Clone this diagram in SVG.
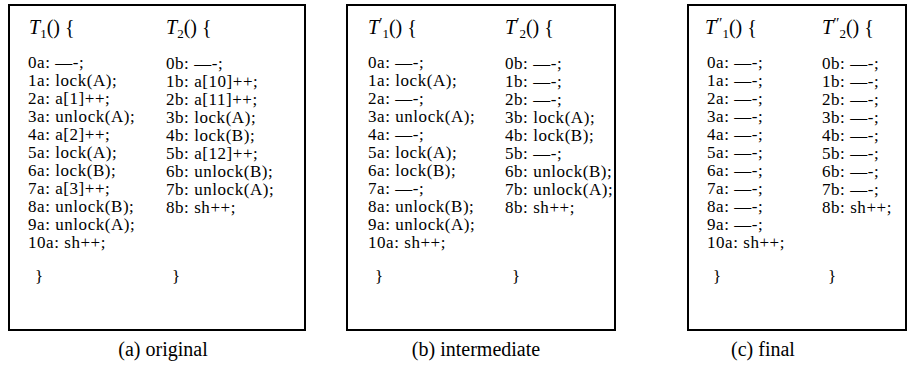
<svg xmlns="http://www.w3.org/2000/svg" width="915" height="369" viewBox="0 0 915 369">
<style>
.box{fill:#fff;stroke:#000;stroke-width:2}
text{font-family:"Liberation Serif","Times New Roman",serif;fill:#000}
.b{font-size:17px;letter-spacing:0.55px}
.h{font-size:20px}
.cap{font-size:20px}
.it{font-style:italic}
.s{font-size:13px}
.p{font-size:15px}
</style>
<rect width="915" height="369" fill="#fff"/>
<g id="panel-a">
<rect class="box" x="9" y="5" width="296" height="325"/>
<text class="h" x="29" y="34"><tspan class="it">T</tspan><tspan class="s" dy="4">1</tspan><tspan dy="-4">() {</tspan></text>
<text class="h" x="166" y="34"><tspan class="it">T</tspan><tspan class="s" dy="4">2</tspan><tspan dy="-4">() {</tspan></text>
<text class="b" x="28" y="68">0a: —-;</text>
<text class="b" x="28" y="86">1a: lock(A);</text>
<text class="b" x="28" y="104">2a: a[1]++;</text>
<text class="b" x="28" y="122">3a: unlock(A);</text>
<text class="b" x="28" y="140">4a: a[2]++;</text>
<text class="b" x="28" y="158">5a: lock(A);</text>
<text class="b" x="28" y="176">6a: lock(B);</text>
<text class="b" x="28" y="194">7a: a[3]++;</text>
<text class="b" x="28" y="212">8a: unlock(B);</text>
<text class="b" x="28" y="230">9a: unlock(A);</text>
<text class="b" x="28" y="248">10a: sh++;</text>
<text class="b" x="35" y="282">}</text>
<text class="b" x="166" y="69">0b: —-;</text>
<text class="b" x="166" y="87">1b: a[10]++;</text>
<text class="b" x="166" y="105">2b: a[11]++;</text>
<text class="b" x="166" y="123">3b: lock(A);</text>
<text class="b" x="166" y="141">4b: lock(B);</text>
<text class="b" x="166" y="159">5b: a[12]++;</text>
<text class="b" x="166" y="177">6b: unlock(B);</text>
<text class="b" x="166" y="195">7b: unlock(A);</text>
<text class="b" x="166" y="213">8b: sh++;</text>
<text class="b" x="172" y="282">}</text>
</g>
<g id="panel-b">
<rect class="box" x="347" y="5" width="268" height="325"/>
<text class="h" x="368" y="34"><tspan class="it">T</tspan><tspan class="p" dy="-6">′</tspan><tspan class="s" dy="10">1</tspan><tspan dy="-4">() {</tspan></text>
<text class="h" x="505" y="34"><tspan class="it">T</tspan><tspan class="p" dy="-6">′</tspan><tspan class="s" dy="10">2</tspan><tspan dy="-4">() {</tspan></text>
<text class="b" x="368" y="68">0a: —-;</text>
<text class="b" x="368" y="86">1a: lock(A);</text>
<text class="b" x="368" y="104">2a: —-;</text>
<text class="b" x="368" y="122">3a: unlock(A);</text>
<text class="b" x="368" y="140">4a: —-;</text>
<text class="b" x="368" y="158">5a: lock(A);</text>
<text class="b" x="368" y="176">6a: lock(B);</text>
<text class="b" x="368" y="194">7a: —-;</text>
<text class="b" x="368" y="212">8a: unlock(B);</text>
<text class="b" x="368" y="230">9a: unlock(A);</text>
<text class="b" x="368" y="248">10a: sh++;</text>
<text class="b" x="375" y="282">}</text>
<text class="b" x="505" y="69">0b: —-;</text>
<text class="b" x="505" y="87">1b: —-;</text>
<text class="b" x="505" y="105">2b: —-;</text>
<text class="b" x="505" y="123">3b: lock(A);</text>
<text class="b" x="505" y="141">4b: lock(B);</text>
<text class="b" x="505" y="159">5b: —-;</text>
<text class="b" x="505" y="177">6b: unlock(B);</text>
<text class="b" x="505" y="195">7b: unlock(A);</text>
<text class="b" x="505" y="213">8b: sh++;</text>
<text class="b" x="512" y="282">}</text>
</g>
<g id="panel-c">
<rect class="box" x="688" y="5" width="218" height="325"/>
<text class="h" x="705" y="34"><tspan class="it">T</tspan><tspan class="p" dy="-6">″</tspan><tspan class="s" dy="10">1</tspan><tspan dy="-4">() {</tspan></text>
<text class="h" x="822" y="34"><tspan class="it">T</tspan><tspan class="p" dy="-6">″</tspan><tspan class="s" dy="10">2</tspan><tspan dy="-4">() {</tspan></text>
<text class="b" x="707" y="68">0a: —-;</text>
<text class="b" x="707" y="86">1a: —-;</text>
<text class="b" x="707" y="104">2a: —-;</text>
<text class="b" x="707" y="122">3a: —-;</text>
<text class="b" x="707" y="140">4a: —-;</text>
<text class="b" x="707" y="158">5a: —-;</text>
<text class="b" x="707" y="176">6a: —-;</text>
<text class="b" x="707" y="194">7a: —-;</text>
<text class="b" x="707" y="212">8a: —-;</text>
<text class="b" x="707" y="230">9a: —-;</text>
<text class="b" x="707" y="248">10a: sh++;</text>
<text class="b" x="713" y="282">}</text>
<text class="b" x="822" y="69">0b: —-;</text>
<text class="b" x="822" y="87">1b: —-;</text>
<text class="b" x="822" y="105">2b: —-;</text>
<text class="b" x="822" y="123">3b: —-;</text>
<text class="b" x="822" y="141">4b: —-;</text>
<text class="b" x="822" y="159">5b: —-;</text>
<text class="b" x="822" y="177">6b: —-;</text>
<text class="b" x="822" y="195">7b: —-;</text>
<text class="b" x="822" y="213">8b: sh++;</text>
<text class="b" x="828" y="282">}</text>
</g>
<g id="captions">
<text class="cap" x="163" y="356" text-anchor="middle">(a) original</text>
<text class="cap" x="476" y="356" text-anchor="middle">(b) intermediate</text>
<text class="cap" x="763" y="356" text-anchor="middle">(c) final</text>
</g>
</svg>
